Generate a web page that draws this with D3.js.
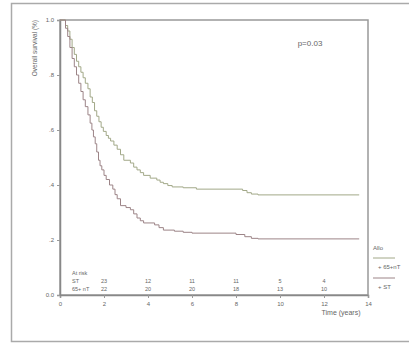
<!DOCTYPE html>
<html>
<head>
<meta charset="utf-8">
<script src="https://cdn.jsdelivr.net/npm/d3@7"></script>
<style>
  body { margin: 0; background: #fff; }
  text { font-family: "Liberation Sans", Arial, sans-serif; fill: #666; }
</style>
</head>
<body>
<div id="chart"></div>
<script>
// Kaplan-Meier curves (time in years, survival 0..1)
const upperTimes = [0, 0.15, 0.25, 0.35, 0.45, 0.55, 0.65, 0.75, 0.85, 0.95, 1.05, 1.15, 1.27, 1.37, 1.47, 1.57, 1.67, 1.77, 1.87, 1.97, 2.1, 2.2, 2.3, 2.45, 2.6, 2.75, 2.9, 3.2, 3.35, 3.5, 3.65, 3.8, 4.1, 4.4, 4.55, 4.7, 4.9, 5.1, 5.6, 6.2, 8.3, 8.5, 8.7, 9.0, 13.6];
const upperSurv  = [1.0, 1.0, 0.98, 0.96, 0.93, 0.9, 0.875, 0.85, 0.83, 0.81, 0.79, 0.77, 0.75, 0.72, 0.7, 0.67, 0.65, 0.63, 0.61, 0.595, 0.58, 0.57, 0.56, 0.545, 0.53, 0.51, 0.49, 0.48, 0.465, 0.455, 0.445, 0.435, 0.425, 0.418, 0.41, 0.405, 0.398, 0.393, 0.39, 0.385, 0.38, 0.372, 0.367, 0.364, 0.364];
const lowerTimes = [0, 0.15, 0.25, 0.35, 0.45, 0.55, 0.65, 0.75, 0.85, 0.95, 1.05, 1.15, 1.27, 1.37, 1.45, 1.52, 1.6, 1.67, 1.75, 1.82, 1.9, 2.0, 2.1, 2.25, 2.4, 2.5, 2.6, 2.75, 3.0, 3.2, 3.35, 3.5, 3.65, 3.8, 4.3, 4.5, 4.7, 5.2, 5.6, 6.0, 8.0, 8.4, 8.7, 9.0, 13.6];
const lowerSurv  = [1.0, 1.0, 0.97, 0.94, 0.9, 0.86, 0.83, 0.8, 0.77, 0.74, 0.71, 0.685, 0.655, 0.625, 0.6, 0.575, 0.55, 0.52, 0.49, 0.47, 0.455, 0.435, 0.42, 0.4, 0.385, 0.365, 0.35, 0.325, 0.318, 0.31, 0.295, 0.28, 0.27, 0.262, 0.255, 0.245, 0.236, 0.232, 0.228, 0.225, 0.22, 0.212, 0.206, 0.204, 0.204];

const xTicks = [0, 2, 4, 6, 8, 10, 12, 14];
const yTicks = [0, 0.2, 0.4, 0.6, 0.8, 1.0];
const yTickLabels = ['0.0', '.2', '.4', '.6', '.8', '1.0'];

const riskTimes = [2, 4, 6, 8, 10, 12];
const riskRowLabels = ['ST', '65+ nT'];
const riskST = [23, 12, 11, 11, 5, 4];
const riskNT = [22, 20, 20, 18, 13, 10];

const legendTitle = 'Allo';
const legendLabels = ['+ 65+nT', '+ ST'];

const W = 409, H = 343;
const margin = {left: 60, top: 20, right: 41, bottom: 48};
const upperColor = '#a2a888', lowerColor = '#9c8487';

const svg = d3.select('#chart').append('svg')
  .attr('width', W).attr('height', H);

// outer frame
svg.append('rect')
  .attr('x', 11.5).attr('y', 3.5)
  .attr('width', W).attr('height', H - 5)
  .attr('fill', 'none').attr('stroke', '#aaa').attr('stroke-width', 1.5);

const x = d3.scaleLinear().domain([0, 14]).range([margin.left, W - margin.right]);
const y = d3.scaleLinear().domain([0, 1]).range([H - margin.bottom, margin.top]);

// plot box
svg.append('rect')
  .attr('x', x(0)).attr('y', y(1))
  .attr('width', x(14) - x(0)).attr('height', y(0) - y(1))
  .attr('fill', 'none').attr('stroke', '#999').attr('stroke-width', 1.5);

// axes
const xAxis = svg.append('g')
  .attr('transform', `translate(0,${y(0)})`)
  .call(d3.axisBottom(x).tickValues(xTicks).tickSize(3).tickFormat(d3.format('d')));
const yAxis = svg.append('g')
  .attr('transform', `translate(${x(0)},0)`)
  .call(d3.axisLeft(y).tickValues(yTicks).tickSize(3).tickFormat((d, i) => yTickLabels[i]));
[xAxis, yAxis].forEach(a => {
  a.select('.domain').attr('stroke', '#888').attr('stroke-width', 1.5);
  a.selectAll('.tick line').attr('stroke', '#999');
  a.selectAll('.tick text').style('font-size', '6px').attr('fill', '#666');
});
xAxis.selectAll('.tick text').attr('dy', '0.9em');

// curves
const line = d3.line()
  .x(d => x(d[0])).y(d => y(d[1]))
  .curve(d3.curveStepAfter);

svg.append('path')
  .datum(upperTimes.map((t, i) => [t, upperSurv[i]]))
  .attr('d', line).attr('fill', 'none')
  .attr('stroke', upperColor).attr('stroke-width', 1);
svg.append('path')
  .datum(lowerTimes.map((t, i) => [t, lowerSurv[i]]))
  .attr('d', line).attr('fill', 'none')
  .attr('stroke', lowerColor).attr('stroke-width', 1);

// p value
svg.append('text')
  .attr('x', 310).attr('y', 46)
  .attr('text-anchor', 'middle')
  .style('font-size', '8px').attr('fill', '#555')
  .text('p=0.03');

// axis titles
svg.append('text')
  .attr('transform', `translate(37,${margin.top}) rotate(-90)`)
  .attr('text-anchor', 'end')
  .style('font-size', '6.5px')
  .text('Overall survival (%)');
svg.append('text')
  .attr('x', 341).attr('y', 315)
  .attr('text-anchor', 'middle')
  .style('font-size', '7px')
  .text('Time (years)');

// at-risk table
const risk = svg.append('g').style('font-size', '5.5px');
risk.append('text').attr('x', 72).attr('y', 275).text('At risk');
[riskST, riskNT].forEach((row, r) => {
  const ry = 283 + r * 8;
  risk.append('text').attr('x', 72).attr('y', ry).text(riskRowLabels[r]);
  risk.selectAll(null)
    .data(row)
    .enter().append('text')
    .attr('x', (d, i) => x(riskTimes[i]))
    .attr('y', ry)
    .attr('text-anchor', 'middle')
    .text(d => d);
});

// legend
const leg = svg.append('g').style('font-size', '6px');
leg.append('text').attr('x', 373).attr('y', 250).text(legendTitle);
legendLabels.forEach((lab, i) => {
  const ly = 258 + i * 20;
  leg.append('line')
    .attr('x1', 373).attr('x2', 395)
    .attr('y1', ly).attr('y2', ly)
    .attr('stroke', i === 0 ? upperColor : lowerColor).attr('stroke-width', 1);
  leg.append('text').attr('x', 378).attr('y', ly + 11).text(lab);
});
</script>
</body>
</html>
